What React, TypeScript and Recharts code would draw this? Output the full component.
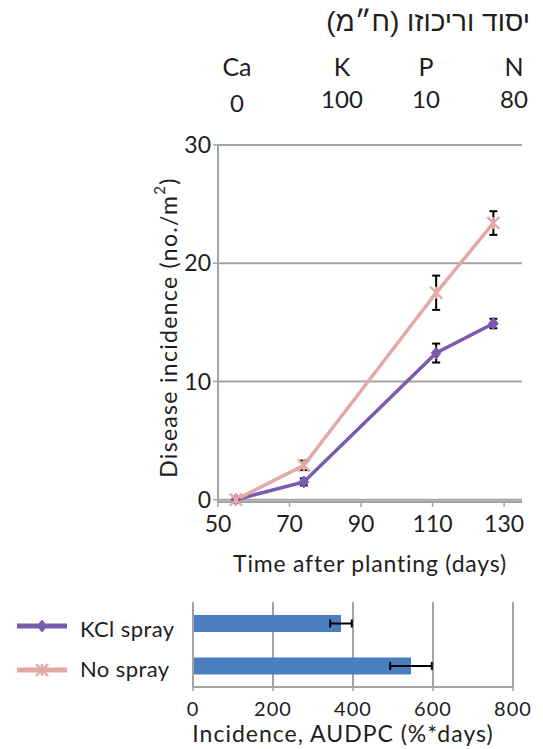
import React from 'react';
import {
  LineChart,
  Line,
  XAxis,
  YAxis,
  CartesianGrid,
  ErrorBar,
  BarChart,
  Bar,
  Label,
} from 'recharts';

// ---- Header table ----
const headerTitle = 'יסוד וריכוזו (ח״מ)';
const elements = ['Ca', 'K', 'P', 'N'];
const concentrations = ['0', '100', '10', '80'];

// ---- Line chart data ----
const days = [55, 74, 111, 127];
const kclSpray = [0, 1.5, 12.4, 14.9];
const kclSprayErr = [0.1, 0.3, 0.8, 0.4];
const noSpray = [0, 2.9, 17.5, 23.4];
const noSprayErr = [0.2, 0.4, 1.45, 1.0];
const dayTicks = [50, 70, 90, 110, 130];
const incidenceTicks = [0, 10, 20, 30];

// ---- Bar chart data ----
const treatments = ['KCl spray', 'No spray'];
const audpc = [370, 545];
const audpcErr = [27, 52];
const audpcTicks = [0, 200, 400, 600, 800];

const PURPLE = '#7B5BAF';
const PINK = '#E3A9A5';
const BLUE = '#4A7EBF';
const GRID = '#a3a3a3';
const TEXT = '#1e1e1e';
const FONT = 'Lato, "Open Sans", sans-serif';

const lineData = days.map((d, i) => ({
  day: d,
  kcl: kclSpray[i],
  kclErr: kclSprayErr[i],
  none: noSpray[i],
  noneErr: noSprayErr[i],
}));

const barData = treatments.map((t, i) => ({
  name: t,
  value: audpc[i],
  err: audpcErr[i],
}));

const headerX = [237, 342, 426, 514];

const Diamond = (props: any) => {
  const { cx, cy, fill } = props;
  if (cx == null || cy == null) return null;
  const r = 6;
  return (
    <path
      d={`M${cx},${cy - r}L${cx + r * 0.8},${cy}L${cx},${cy + r}L${cx - r * 0.8},${cy}Z`}
      fill={fill}
      stroke={fill}
      strokeWidth={1}
    />
  );
};

const Cross = (props: any) => {
  const { cx, cy, stroke } = props;
  if (cx == null || cy == null) return null;
  const r = 6;
  return (
    <g stroke={stroke} strokeWidth={2.4}>
      <line x1={cx - r} y1={cy - r} x2={cx + r} y2={cy + r} />
      <line x1={cx - r} y1={cy + r} x2={cx + r} y2={cy - r} />
      <line x1={cx} y1={cy - r} x2={cx} y2={cy + r} />
    </g>
  );
};

const YTitle = (props: any) => {
  const vb = props.viewBox || { x: 0, y: 0, width: 0, height: 0 };
  const x = vb.x + vb.width - 50;
  const y = vb.y + vb.height / 2 + 4;
  return (
    <text
      x={x}
      y={y}
      transform={`rotate(-90, ${x}, ${y})`}
      textAnchor="middle"
      dominantBaseline="central"
      fontFamily={FONT}
      fontSize={23}
      letterSpacing={1.3}
      fill={TEXT}
    >
      Disease incidence (no./m
      <tspan dy={-9} fontSize={15}>2</tspan>
      <tspan dy={9}>)</tspan>
    </text>
  );
};

export default function App() {
  return (
    <div
      style={{
        position: 'absolute',
        left: 0,
        top: 0,
        width: 543,
        height: 749,
        background: '#fff',
        overflow: 'hidden',
      }}
    >
      <div
        dir="rtl"
        style={{
          position: 'absolute',
          right: 13,
          top: 5,
          fontFamily: '"Liberation Sans", "DejaVu Sans", sans-serif',
          fontSize: 28,
          lineHeight: '34px',
          color: TEXT,
          whiteSpace: 'nowrap',
        }}
      >
        {headerTitle}
      </div>
      <svg
        width={543}
        height={120}
        style={{ position: 'absolute', left: 0, top: 0 }}
      >
        {elements.map((e, i) => (
          <text
            key={e}
            x={headerX[i]}
            y={66}
            textAnchor="middle"
            dominantBaseline="central"
            fontFamily={FONT}
            fontSize={25}
            fill={TEXT}
          >
            {e}
          </text>
        ))}
        {concentrations.map((c, i) => (
          <text
            key={i}
            x={headerX[i]}
            y={i === 0 ? 102 : 98}
            textAnchor="middle"
            dominantBaseline="central"
            fontFamily={FONT}
            fontSize={24}
            fill={TEXT}
          >
            {c}
          </text>
        ))}
      </svg>

      <div style={{ position: 'absolute', left: 0, top: 0 }}>
        <LineChart
          width={543}
          height={580}
          data={lineData}
          margin={{ top: 145, right: 21, bottom: 0, left: 0 }}
        >
          <CartesianGrid
            vertical={false}
            stroke={GRID}
            strokeWidth={2}
          />
          <XAxis
            dataKey="day"
            type="number"
            domain={[50, 135]}
            ticks={dayTicks}
            height={78}
            axisLine={{ stroke: GRID, strokeWidth: 2 }}
            tickLine={{ stroke: GRID, strokeWidth: 1.5 }}
            tickSize={5}
            tickMargin={9}
            tick={{ fill: TEXT, fontSize: 23, fontFamily: FONT }}
            interval={0}
          >
            <Label
              value="Time after planting (days)"
              position="insideBottom"
              offset={8}
              style={{ fill: TEXT, fontSize: 23, fontFamily: FONT, letterSpacing: 0.8 }}
            />
          </XAxis>
          <YAxis
            type="number"
            domain={[0, 30]}
            ticks={incidenceTicks}
            width={218}
            axisLine={{ stroke: GRID, strokeWidth: 2 }}
            tickLine={{ stroke: GRID, strokeWidth: 1.5 }}
            tickSize={5}
            tickMargin={2}
            tick={{ fill: TEXT, fontSize: 23, fontFamily: FONT }}
            interval={0}
          >
            <Label content={<YTitle />} />
          </YAxis>
          <Line
            dataKey="kcl"
            stroke={PURPLE}
            strokeWidth={3.5}
            dot={<Diamond fill={PURPLE} />}
            isAnimationActive={false}
          >
            <ErrorBar
              dataKey="kclErr"
              direction="y"
              width={4}
              stroke="#000"
              strokeWidth={2}
            />
          </Line>
          <Line
            dataKey="none"
            stroke={PINK}
            strokeWidth={3.5}
            dot={<Cross stroke={PINK} />}
            isAnimationActive={false}
          >
            <ErrorBar
              dataKey="noneErr"
              direction="y"
              width={4}
              stroke="#000"
              strokeWidth={2}
            />
          </Line>
        </LineChart>
      </div>

      <svg
        width={190}
        height={100}
        style={{ position: 'absolute', left: 0, top: 600 }}
      >
        <line x1={17} y1={26} x2={67} y2={26} stroke={PURPLE} strokeWidth={5} />
        <Diamond cx={42} cy={26} fill={PURPLE} />
        <text
          x={80}
          y={28}
          dominantBaseline="central"
          fontFamily={FONT}
          fontSize={22}
          letterSpacing={0.4}
          fill={TEXT}
        >
          {treatments[0]}
        </text>
        <line x1={17} y1={70} x2={67} y2={70} stroke={PINK} strokeWidth={5} />
        <Cross cx={42} cy={70} stroke={PINK} />
        <text
          x={80}
          y={68}
          dominantBaseline="central"
          fontFamily={FONT}
          fontSize={22}
          letterSpacing={0.4}
          fill={TEXT}
        >
          {treatments[1]}
        </text>
      </svg>

      <div style={{ position: 'absolute', left: 0, top: 580 }}>
        <BarChart
          width={543}
          height={169}
          data={barData}
          layout="vertical"
          margin={{ top: 22, right: 30, bottom: 0, left: 0 }}
          barCategoryGap="30%"
        >
          <CartesianGrid
            horizontal={false}
            stroke={GRID}
            strokeWidth={2}
          />
          <XAxis
            type="number"
            domain={[0, 800]}
            ticks={audpcTicks}
            height={62}
            axisLine={{ stroke: GRID, strokeWidth: 2 }}
            tickLine={{ stroke: GRID, strokeWidth: 1.5 }}
            tickSize={4}
            tickMargin={11}
            tick={{ fill: TEXT, fontSize: 20, fontFamily: FONT, letterSpacing: 1 }}
            interval={0}
          >
            <Label
              value="Incidence, AUDPC (%*days)"
              position="insideBottom"
              offset={7}
              dx={-10}
              style={{ fill: TEXT, fontSize: 23, fontFamily: FONT, letterSpacing: 1 }}
            />
          </XAxis>
          <YAxis
            type="category"
            dataKey="name"
            width={193}
            axisLine={{ stroke: GRID, strokeWidth: 2 }}
            tickLine={false}
            tick={false}
          />
          <Bar
            dataKey="value"
            fill={BLUE}
            barSize={17}
            isAnimationActive={false}
          >
            <ErrorBar
              dataKey="err"
              direction="x"
              width={4}
              stroke="#000"
              strokeWidth={2}
            />
          </Bar>
        </BarChart>
      </div>
    </div>
  );
}
